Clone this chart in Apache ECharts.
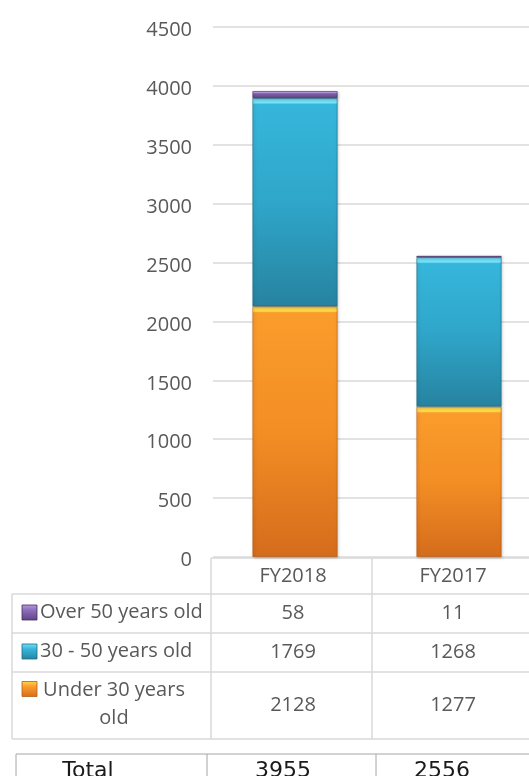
<!DOCTYPE html>
<html><head><meta charset="utf-8">
<script src="https://cdn.jsdelivr.net/npm/echarts@6/dist/echarts.min.js"></script>
<style>html,body{margin:0;padding:0;background:#fff;overflow:hidden}#c{width:546px;height:776px}</style>
</head><body><div id="c"></div>
<script>
// ---- data ----
const categories = ['FY2018', 'FY2017'];
const seriesNames = ['Under 30 years old', '30 - 50 years old', 'Over 50 years old'];
const under30 = [2128, 1277];
const age30to50 = [1769, 1268];
const over50 = [58, 11];
const totals = [3955, 2556];
const totalLabel = 'Total';
const yMin = 0, yMax = 4500, yStep = 500;

// ---- styles ----
const TXT = '#595959';
const FONT = "'Open Sans', sans-serif";
const palettes = [
  { top: '#FA9C2C', mid: '#F38E24', bottom: '#D46C1C', edge: '#B85D16', hi: '#FFD84A' },
  { top: '#36B6DB', mid: '#2FA6CA', bottom: '#2783A0', edge: '#1F6A82', hi: '#74E2F8' },
  { top: '#8E6DBB', mid: '#7A5AA6', bottom: '#5E4484', edge: '#3F2D5C', hi: '#B89BE0' }
];
const PLOT_H = 530;
const seriesData = [under30, age30to50, over50];

function barGrad(p, value) {
  const px = value / (yMax - yMin) * PLOT_H;
  const f = Math.min(0.3, 6 / Math.max(px, 1));
  return new echarts.graphic.LinearGradient(0, 0, 0, 1, [
    { offset: 0, color: p.hi }, { offset: f * 0.8, color: p.hi },
    { offset: Math.min(f * 1.05, 0.35), color: p.top },
    { offset: 0.5, color: p.mid }, { offset: 1, color: p.bottom }
  ]);
}
function grad(p) {
  return new echarts.graphic.LinearGradient(0, 0, 0, 1, [
    { offset: 0, color: p.hi }, { offset: 0.35, color: p.top }, { offset: 1, color: p.bottom }
  ]);
}

const chart = echarts.init(document.getElementById('c'), null, { renderer: 'canvas' });

// ---- table graphics ----
const colX = [12, 211, 372, 540];
const rowY = [558, 594, 633, 672, 739];
const lineC = '#D9D9D9';
const g = [];
function hline(x1, x2, y, c, w) { g.push({ type: 'line', shape: { x1, y1: y, x2, y2: y }, style: { stroke: c || lineC, lineWidth: w || 1.5 }, silent: true }); }
function vline(x, y1, y2, c, w) { g.push({ type: 'line', shape: { x1: x, y1, x2: x, y2 }, style: { stroke: c || lineC, lineWidth: w || 1.5 }, silent: true }); }
hline(colX[1], colX[3], rowY[0]);
for (let i = 1; i < rowY.length; i++) hline(colX[0], colX[3], rowY[i]);
vline(colX[0], rowY[1], rowY[4]);
vline(colX[1], rowY[0], rowY[4]);
vline(colX[2], rowY[0], rowY[4]);
const colCenters = [293, 453];
function txt(x, y, s, opt) {
  g.push({ type: 'text', x, y, style: Object.assign({ text: s, fill: TXT, fontSize: 20, fontFamily: FONT, align: 'center', verticalAlign: 'middle' }, opt || {}), silent: true });
}
categories.forEach((c, i) => txt(colCenters[i], 576, c));
// rows: reverse of stacking order
const order = [2, 1, 0];
order.forEach((si, r) => {
  const y0 = rowY[r + 1], y1 = rowY[r + 2];
  const p = palettes[si];
  const twoLine = si === 0;
  const my = twoLine ? y0 + 17 : (y0 + y1) / 2 - 1;
  g.push({ type: 'rect', shape: { x: 22, y: my - 7.5, width: 15, height: 15 }, style: { fill: grad(p), stroke: p.edge, lineWidth: 0.8 }, silent: true });
  if (twoLine) {
    txt(114, (y0 + y1) / 2 - 1, 'Under 30 years\nold', { lineHeight: 28 });
  } else {
    txt(40, my, seriesNames[si], { align: 'left' });
  }
  categories.forEach((c, i) => txt(colCenters[i], (y0 + y1) / 2, String(seriesData[si][i])));
});
// total table
const tc = '#A6A6A6';
g.push({ type: 'rect', shape: { x: 16, y: 754, width: 530, height: 60 }, style: { fill: 'none', stroke: tc, lineWidth: 1 }, silent: true });
vline(207, 754, 800, tc, 1);
vline(376, 754, 800, tc, 1);
const TF = { fill: '#1a1a1a', fontSize: 22, fontFamily: '"DejaVu Sans", sans-serif' };
txt(88, 771, totalLabel, TF);
const totCenters = [283, 442];
totals.forEach((t, i) => txt(totCenters[i], 771, String(t), TF));

chart.setOption({
  animation: false,
  backgroundColor: '#fff',
  grid: { left: 213, top: 27, width: 328, height: PLOT_H, containLabel: false },
  xAxis: {
    type: 'category', data: categories,
    axisLine: { show: false }, axisTick: { show: false }, axisLabel: { show: false },
    splitLine: { show: false }
  },
  yAxis: {
    type: 'value', min: yMin, max: yMax, interval: yStep,
    axisLine: { show: false }, axisTick: { show: false },
    axisLabel: {
      margin: 21, formatter: v => '{a|' + v + '}',
      rich: { a: { color: TXT, fontSize: 20, fontFamily: FONT, padding: [7, 0, 0, 0] } }
    },
    splitLine: { lineStyle: { color: lineC, width: 1.5 } }
  },
  series: seriesData.map((d, si) => ({
    name: seriesNames[si], type: 'bar', stack: 'total', barWidth: 85,
    data: d.map(v => ({ value: v, itemStyle: { color: barGrad(palettes[si], v) } })),
    itemStyle: {
      borderColor: palettes[si].edge, borderWidth: 0.6,
      shadowBlur: 3, shadowColor: 'rgba(0,0,0,0.25)', shadowOffsetX: 1, shadowOffsetY: 1
    }
  })),
  graphic: g
});
</script>
</body></html>
